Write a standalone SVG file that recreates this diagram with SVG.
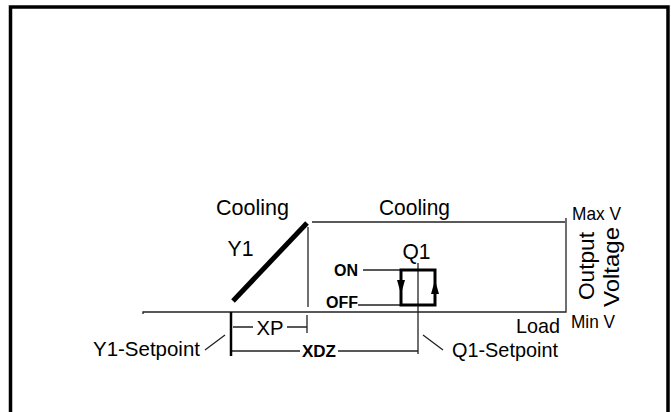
<svg xmlns="http://www.w3.org/2000/svg" width="671" height="412" viewBox="0 0 671 412">
<style>
text{font-family:"Liberation Sans",Arial,sans-serif;fill:#000}
.big{font-size:22.5px}
.mid{font-size:21px}
.sm{font-size:18.5px}
.b{font-weight:bold;font-size:16px}
.thin{stroke:#222;stroke-width:1.3;fill:none}
.thick{stroke:#000;fill:none}
</style>
<rect width="671" height="412" fill="#fff"/>
<path d="M10.5,412 V7 H668 V412" fill="none" stroke="#000" stroke-width="3.5"/>
<g id="connectors">
<path class="thin" d="M143,314 V312 H566 V218"/>
<path class="thin" d="M312,222 H565"/>
<path class="thin" d="M308,227 V307"/>
<path class="thin" d="M418,263 V354"/>
<path class="thin" d="M363,270 H401 M358,305 H401"/>
<path class="thin" d="M233,327 H253 M287,327 H307 M307,315 V333"/>
<path class="thin" d="M231,351 H300 M338,351 H418"/>
<path class="thin" d="M205,350 L225,335 M423,335 L443,350"/>
<path class="thick" stroke-width="2.5" d="M231,312 V356"/>
</g>
<g id="y1">
<line x1="233" y1="301" x2="307" y2="223" stroke="#000" stroke-width="5"/>
<text class="big" x="240.5" y="256" text-anchor="middle" textLength="26" lengthAdjust="spacingAndGlyphs">Y1</text>
<text class="big" x="252.5" y="215" text-anchor="middle" textLength="73" lengthAdjust="spacingAndGlyphs">Cooling</text>
</g>
<g id="q1">
<rect x="401" y="270" width="34" height="35" fill="none" stroke="#000" stroke-width="3"/>
<polygon points="397,280 405,280 401,294" fill="#000"/>
<polygon points="431,294 439,294 435,280" fill="#000"/>
<text class="big" x="416.5" y="259" text-anchor="middle" textLength="28" lengthAdjust="spacingAndGlyphs">Q1</text>
<text class="big" x="414.5" y="215" text-anchor="middle" textLength="71" lengthAdjust="spacingAndGlyphs">Cooling</text>
<text class="b" x="358" y="276" text-anchor="end">ON</text>
<text class="b" x="358" y="308" text-anchor="end">OFF</text>
</g>
<g id="labels">
<text class="mid" x="270" y="335" text-anchor="middle" textLength="27" lengthAdjust="spacingAndGlyphs">XP</text>
<text x="319" y="357" text-anchor="middle" font-size="17" font-weight="bold" textLength="34" lengthAdjust="spacingAndGlyphs">XDZ</text>
<text class="mid" x="200" y="356" text-anchor="end" textLength="107" lengthAdjust="spacingAndGlyphs">Y1-Setpoint</text>
<text class="mid" x="452" y="357" textLength="106" lengthAdjust="spacingAndGlyphs">Q1-Setpoint</text>
<text class="mid" x="516" y="333" textLength="44" lengthAdjust="spacingAndGlyphs">Load</text>
<text class="sm" x="571" y="328" textLength="44" lengthAdjust="spacingAndGlyphs">Min V</text>
<text class="sm" x="572" y="220" textLength="49" lengthAdjust="spacingAndGlyphs">Max V</text>
<text class="big" transform="translate(594,266) rotate(-90)" text-anchor="middle" textLength="68" lengthAdjust="spacingAndGlyphs">Output</text>
<text class="big" transform="translate(619,267) rotate(-90)" text-anchor="middle" textLength="80" lengthAdjust="spacingAndGlyphs">Voltage</text>
</g>
</svg>
